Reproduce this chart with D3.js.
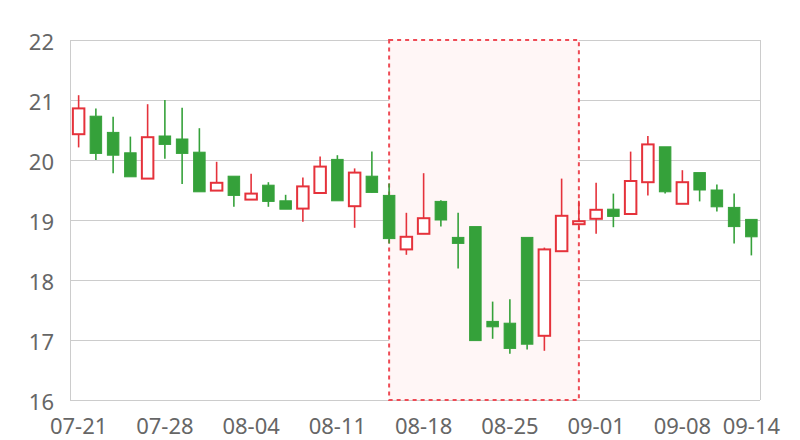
<!DOCTYPE html>
<html><head><meta charset="utf-8">
<script src="https://cdn.jsdelivr.net/npm/d3@7/dist/d3.min.js"></script>
<style>html,body{margin:0;padding:0;background:#fff;}svg{display:block;}</style>
</head><body>
<svg id="chart" width="800" height="440"></svg>
<script>
const dates = ["07-21","07-22","07-23","07-24","07-25","07-28","07-29","07-30","07-31","08-01",
  "08-04","08-05","08-06","08-07","08-08","08-11","08-12","08-13","08-14","08-15",
  "08-18","08-19","08-20","08-21","08-22","08-25","08-26","08-27","08-28","08-29",
  "09-01","09-02","09-03","09-04","09-05","09-08","09-09","09-10","09-11","09-14"];
const openVals  = [20.43,20.73,20.46,20.12,19.69,20.40,20.35,20.13,19.49,19.73,
  19.34,19.58,19.32,19.19,19.45,20.01,19.23,19.73,19.41,18.51,
  18.77,19.31,18.71,18.89,17.31,17.28,18.71,17.07,18.48,18.93,
  19.02,19.18,19.10,19.63,20.22,19.27,19.79,19.50,19.21,19.01];
const closeVals = [20.86,20.11,20.08,19.72,20.38,20.26,20.11,19.47,19.62,19.41,
  19.44,19.31,19.18,19.56,19.89,19.32,19.79,19.46,18.69,18.72,
  19.03,19.00,18.61,16.99,17.22,16.86,16.93,18.51,19.07,18.98,
  19.17,19.06,19.65,20.26,19.47,19.63,19.50,19.22,18.89,18.72];
const lowVals   = [20.21,20.00,19.78,19.72,19.69,20.02,19.60,19.47,19.49,19.22,
  19.34,19.22,19.18,18.97,19.45,19.32,18.87,19.45,18.61,18.42,
  18.77,18.89,18.19,16.99,17.02,16.77,16.84,16.82,18.48,18.84,
  18.77,18.88,19.10,19.41,19.44,19.27,19.31,19.14,18.61,18.41];
const highVals  = [21.08,20.86,20.72,20.39,20.93,21.00,20.87,20.53,19.97,19.73,
  19.77,19.63,19.42,19.71,20.06,20.08,19.86,20.14,19.61,19.12,
  19.78,19.33,19.12,18.89,17.64,17.68,18.71,18.54,19.69,19.32,
  19.62,19.44,20.14,20.40,20.22,19.83,19.79,19.59,19.44,19.01];
const yTicks = [16,17,18,19,20,21,22];
const xTickLabels = ["07-21","07-28","08-04","08-11","08-18","08-25","09-01","09-08","09-14"];
const markRange = ["08-14","08-29"];

const upColor = "#e5323b", downColor = "#35a13a";
const fontFam = "'Noto Sans', sans-serif";
const margin = {left:70, top:40, right:40, bottom:40};
const W = 800, H = 440;
const svg = d3.select("#chart");
const x = d3.scaleBand().domain(dates).range([margin.left, W - margin.right]).padding(0);
const y = d3.scaleLinear().domain([16,22]).range([H - margin.bottom, margin.top]);
const cx = d => x(d) + x.bandwidth()/2;

// grid
svg.append("g").selectAll("line").data(yTicks).join("line")
  .attr("x1", margin.left).attr("x2", W - margin.right)
  .attr("y1", d => y(d)+0.5).attr("y2", d => y(d)+0.5)
  .attr("stroke", "#cccccc").attr("stroke-width", 1);
svg.append("line").attr("x1", margin.left+0.5).attr("x2", margin.left+0.5)
  .attr("y1", margin.top).attr("y2", H - margin.bottom).attr("stroke", "#cccccc");
svg.append("line").attr("x1", W - margin.right+0.5).attr("x2", W - margin.right+0.5)
  .attr("y1", margin.top).attr("y2", H - margin.bottom).attr("stroke", "#cccccc");

// mark area
svg.append("rect")
  .attr("x", cx(markRange[0])).attr("y", y(22))
  .attr("width", cx(markRange[1]) - cx(markRange[0]))
  .attr("height", y(16) - y(22))
  .attr("fill", "#fff6f6")
  .attr("stroke", "#ee4b55").attr("stroke-width", 2).attr("stroke-dasharray", "4,4");

// axes labels
const yAxis = d3.axisLeft(y).tickValues(yTicks).tickFormat(d3.format("d")).tickSize(0).tickPadding(16);
const gy = svg.append("g").attr("transform", `translate(${margin.left},0)`).call(yAxis);
gy.select(".domain").remove();
gy.selectAll("text").attr("font-family", fontFam).attr("font-size", 22).attr("fill", "#666").attr("dy", "0.43em");

const xAxis = d3.axisBottom(x).tickValues(xTickLabels).tickSize(0).tickPadding(18);
const gx = svg.append("g").attr("transform", `translate(0,${H - margin.bottom})`).call(xAxis);
gx.select(".domain").remove();
gx.selectAll("text").attr("font-family", fontFam).attr("font-size", 22).attr("fill", "#666");

// candles
const data = dates.map((d,i) => ({d, o:openVals[i], c:closeVals[i], l:lowVals[i], h:highVals[i]}));
const bw = 11.5;
const g = svg.append("g");
data.forEach(p => {
  const up = p.c >= p.o;
  const col = up ? upColor : downColor;
  const top = Math.max(p.o, p.c), bot = Math.min(p.o, p.c);
  g.append("line").attr("x1", cx(p.d)).attr("x2", cx(p.d))
    .attr("y1", y(p.h)).attr("y2", y(top)).attr("stroke", col).attr("stroke-width", 1.6);
  g.append("line").attr("x1", cx(p.d)).attr("x2", cx(p.d))
    .attr("y1", y(bot)).attr("y2", y(p.l)).attr("stroke", col).attr("stroke-width", 1.6);
  g.append("rect").attr("x", cx(p.d) - bw/2).attr("y", y(top))
    .attr("width", bw).attr("height", Math.max(1, y(bot) - y(top)))
    .attr("fill", up ? "#ffffff" : col).attr("stroke", col).attr("stroke-width", up ? 2 : 1);
});
</script>
</body></html>
